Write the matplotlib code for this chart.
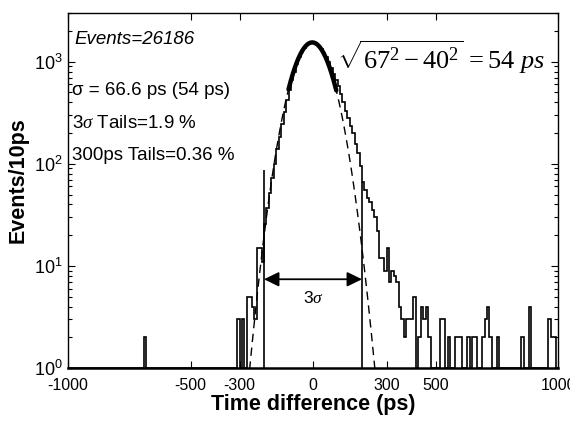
import numpy as np
import matplotlib
matplotlib.use("Agg")
import matplotlib.pyplot as plt
from matplotlib.ticker import FixedLocator, LogLocator, NullFormatter, FixedFormatter

# ---------------- data ----------------
BIN_WIDTH_PS = 10
X_RANGE = (-1000, 1000)
# counts per 10 ps bin, bins start at -1000, -990, ..., 990
COUNTS = [
    0, 0, 0, 0, 0, 0, 0, 0, 0, 0, 0, 0, 0, 0, 0, 0, 0, 0, 0, 0,          # -1000 .. -810
    0, 0, 0, 0, 0, 0, 0, 0, 0, 0, 0, 2, 0, 0, 0, 0, 0, 0, 0, 0,          # -800 .. -610
    0, 0, 0, 0, 0, 0, 0, 0, 0, 0, 0, 0, 0, 0, 0, 0, 0, 0, 0, 0,          # -600 .. -410
    0, 0, 0, 0, 0, 0, 0, 0, 0, 3, 0, 3, 0, 5, 5, 4, 3, 15, 15, 11,       # -400 .. -210
    26, 37, 52, 72, 100, 140, 185, 245, 320, 420,                        # -200 .. -110
    530, 660, 800, 950, 1100, 1240, 1360, 1460, 1520, 1550,              # -100 .. -10
    1540, 1500, 1430, 1340, 1230, 1110, 990, 870, 760, 660,              # 0 .. 90
    580, 480, 400, 330, 280, 235, 200, 155, 128, 95,                     # 100 .. 190
    67, 55, 46, 42, 35, 30, 22, 12, 12, 9, 15, 7, 9, 8, 7, 4, 3, 2, 3, 3,  # 200 .. 390
    3, 5, 1, 2, 4, 3, 4, 2, 0, 0, 0, 0, 3, 3, 0, 2, 0, 0, 2, 2,          # 400 .. 590
    2, 0, 0, 2, 0, 2, 2, 0, 0, 2, 3, 4, 2, 0, 0, 2, 0, 0, 0, 0,          # 600 .. 790
    0, 0, 0, 0, 0, 2, 0, 0, 4, 0, 0, 0, 0, 0, 0, 0, 3, 2, 2, 0,          # 800 .. 990
]

# Gaussian fit shown on the plot
FIT_AMPLITUDE = 1545.0
FIT_MEAN = -3.0
FIT_SIGMA = 66.6
FIT_CORE_RANGE = (-100, 95)

# +-3 sigma markers
SIGMA3_POS = [-200, 200]
SIGMA3_HEIGHT = [87, 67]
ARROW_LEVEL = 7.4

X_TICKS = [-1000, -500, -300, 0, 300, 500, 1000]
X_TICK_LABELS = ["-1000", "-500", "-300", "0", "300", "500", "1000"]
Y_TICKS = [1, 10, 100, 1000]
Y_TICK_LABELS = [r"$\mathsf{10^{0}}$", r"$\mathsf{10^{1}}$", r"$\mathsf{10^{2}}$", r"$\mathsf{10^{3}}$"]
Y_LIM = (1, 3000)

TEXT_EVENTS = "Events=26186"
TEXT_SIGMA = "\u03c3 = 66.6 ps (54 ps)"
TEXT_TAILS3 = r"3$\sigma$ Tails=1.9 %"
TEXT_TAILS300 = "300ps Tails=0.36 %"
TEXT_FORMULA = r"$\sqrt{67^2-40^2}\,=54\ ps$"
TEXT_ARROW = r"3$\sigma$"

# ---------------- style ----------------
plt.rcParams["font.family"] = ["Liberation Sans", "DejaVu Sans"]
plt.rcParams["mathtext.fontset"] = "custom"
plt.rcParams["mathtext.rm"] = "Liberation Serif"
plt.rcParams["mathtext.it"] = "Liberation Serif:italic"
plt.rcParams["mathtext.sf"] = "Liberation Sans"
plt.rcParams["mathtext.bf"] = "Liberation Serif:bold"

W, H = 570, 424
fig = plt.figure(figsize=(W / 100, H / 100), dpi=100)
ax = fig.add_axes([68 / W, (H - 368) / H, 490 / W, 355 / H])

edges = np.arange(X_RANGE[0], X_RANGE[1] + BIN_WIDTH_PS, BIN_WIDTH_PS)
counts = np.array(COUNTS, dtype=float)
ax.stairs(np.maximum(counts, 1), edges, baseline=1, color="black", linewidth=1.2)

t = np.linspace(-320, 320, 1281)
g = FIT_AMPLITUDE * np.exp(-0.5 * ((t - FIT_MEAN) / FIT_SIGMA) ** 2)
ax.plot(t, g, color="black", linestyle=(0, (6, 4)), linewidth=1.0)
core = (t >= FIT_CORE_RANGE[0]) & (t <= FIT_CORE_RANGE[1])
ax.plot(t[core], g[core], color="black", linewidth=3.2, solid_capstyle="round")

ax.vlines(SIGMA3_POS, 1, SIGMA3_HEIGHT, color="black", linewidth=1.2)
ax.annotate("", xy=(SIGMA3_POS[0], ARROW_LEVEL), xytext=(SIGMA3_POS[1], ARROW_LEVEL),
            arrowprops=dict(arrowstyle="<|-|>,head_length=0.45,head_width=0.22",
                            color="black", lw=1.3, mutation_scale=20,
                            shrinkA=0, shrinkB=0))
ax.text(2, 4.9, TEXT_ARROW, ha="center", va="center", fontsize=12.5)

ax.set_yscale("log")
ax.set_xlim(*X_RANGE)
ax.set_ylim(*Y_LIM)

ax.xaxis.set_major_locator(FixedLocator(X_TICKS))
ax.xaxis.set_major_formatter(FixedFormatter(X_TICK_LABELS))
ax.yaxis.set_major_locator(FixedLocator(Y_TICKS))
ax.yaxis.set_major_formatter(FixedFormatter(Y_TICK_LABELS))
ax.yaxis.set_minor_locator(LogLocator(base=10, subs=np.arange(2, 10)))
ax.yaxis.set_minor_formatter(NullFormatter())

ax.tick_params(which="both", direction="in", top=True, right=True, width=0.8)
ax.tick_params(which="major", length=5)
ax.tick_params(axis="x", which="major", labelsize=11.5, pad=7)
ax.tick_params(axis="y", which="major", labelsize=13, pad=4)
ax.tick_params(which="minor", length=3)
for sp in ax.spines.values():
    sp.set_linewidth(1.0)
ax.spines["bottom"].set_linewidth(1.8)

ax.set_xlabel("Time difference (ps)", fontsize=15.5, fontweight="bold", labelpad=1)
fig.text(18 / W, 1 - 180 / H, "Events/10ps", rotation=90, fontsize=15.5,
         fontweight="bold", ha="center", va="center")

ax.text(0.014, 0.924, TEXT_EVENTS, transform=ax.transAxes, fontsize=13.5,
        style="italic", ha="left", va="center")
ax.text(0.008, 0.783, TEXT_SIGMA, transform=ax.transAxes, fontsize=13.5,
        ha="left", va="center")
ax.text(0.008, 0.690, TEXT_TAILS3, transform=ax.transAxes, fontsize=13.5,
        ha="left", va="center")
ax.text(0.008, 0.600, TEXT_TAILS300, transform=ax.transAxes, fontsize=13.5,
        ha="left", va="center")
ax.text(0.549, 0.876, TEXT_FORMULA, transform=ax.transAxes, fontsize=19,
        ha="left", va="center")

fig.savefig("out.png", dpi=100)
